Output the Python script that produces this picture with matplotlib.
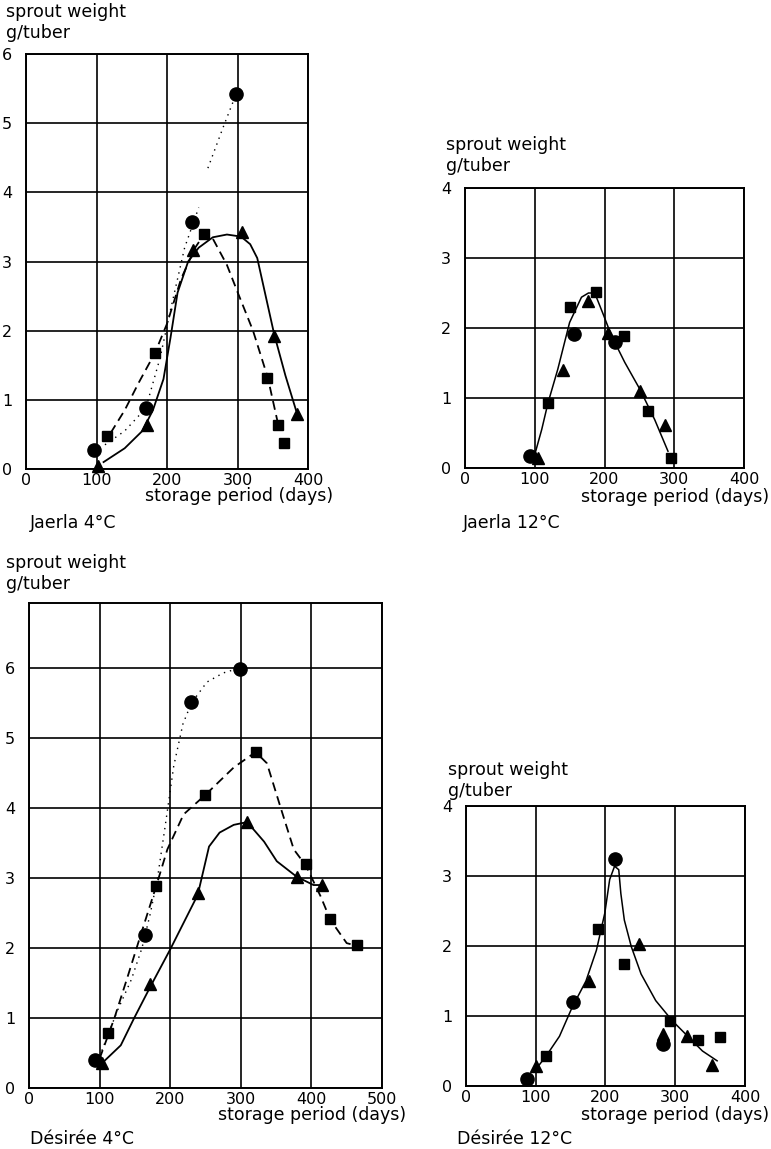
import matplotlib
matplotlib.use("Agg")
import matplotlib.pyplot as plt
import numpy as np

W, H = 771, 1149
DPI = 100

# ---------------- data ----------------
# Jaerla 4 C
j4_circ_x = [96, 170, 235, 298]
j4_circ_y = [0.28, 0.88, 3.57, 5.42]
j4_sq_x = [115, 183, 253, 342, 358, 366]
j4_sq_y = [0.48, 1.68, 3.40, 1.32, 0.63, 0.38]
j4_tri_x = [102, 172, 237, 306, 352, 384]
j4_tri_y = [0.05, 0.63, 3.16, 3.42, 1.92, 0.80]
j4_dot_x = [112, 140, 170, 190, 205, 225, 245, np.nan, 258, 280, 298]
j4_dot_y = [0.35, 0.55, 0.88, 1.60, 2.30, 3.20, 3.78, np.nan, 4.35, 4.95, 5.42]
j4_dash_x = [120, 140, 160, 183, 200, 220, 240, 253, 265, 285, 300, 322, 343, 358]
j4_dash_y = [0.52, 0.85, 1.25, 1.68, 2.10, 2.75, 3.20, 3.40, 3.33, 2.95, 2.56, 2.00, 1.32, 0.63]
j4_sol_x = [110, 140, 165, 180, 195, 205, 215, 230, 245, 265, 285, 305, 318, 328, 340, 352, 368, 383]
j4_sol_y = [0.10, 0.30, 0.55, 0.85, 1.30, 1.90, 2.55, 3.00, 3.20, 3.35, 3.39, 3.36, 3.25, 3.05, 2.50, 1.95, 1.35, 0.85]

# Jaerla 12 C
j12_circ_x = [93, 156, 215]
j12_circ_y = [0.17, 1.91, 1.80]
j12_sq_x = [119, 150, 188, 228, 263, 295]
j12_sq_y = [0.93, 2.30, 2.51, 1.88, 0.81, 0.14]
j12_tri_x = [105, 141, 176, 205, 251, 287]
j12_tri_y = [0.14, 1.40, 2.39, 1.93, 1.10, 0.61]
j12_sol_x = [98, 110, 119, 133, 150, 167, 177, 186, 198, 210, 229, 251, 272, 291]
j12_sol_y = [0.12, 0.55, 0.93, 1.41, 2.08, 2.44, 2.50, 2.50, 2.20, 1.89, 1.51, 1.12, 0.69, 0.24]

# Desiree 4 C
d4_circ_x = [94, 165, 230, 299]
d4_circ_y = [0.40, 2.18, 5.51, 5.99]
d4_sq_x = [112, 180, 250, 321, 392, 427, 465]
d4_sq_y = [0.78, 2.88, 4.19, 4.80, 3.20, 2.42, 2.04]
d4_tri_x = [104, 172, 239, 309, 379, 415]
d4_tri_y = [0.36, 1.48, 2.78, 3.80, 3.02, 2.90]
d4_dot_x = [100, 125, 145, 160, 172, 182, 193, 205, 218, 230, 252, 275, 298]
d4_dot_y = [0.45, 1.10, 1.55, 2.00, 2.50, 3.00, 3.75, 4.60, 5.20, 5.50, 5.80, 5.93, 6.00]
d4_dash_x = [100, 112, 121, 140, 158, 180, 196, 219, 250, 290, 321, 337, 356, 375, 392, 413, 427, 450, 465]
d4_dash_y = [0.42, 0.75, 1.00, 1.60, 2.18, 2.88, 3.41, 3.91, 4.19, 4.58, 4.80, 4.64, 4.02, 3.41, 3.18, 2.74, 2.40, 2.07, 2.03]
d4_sol_x = [104, 130, 149, 172, 200, 220, 239, 255, 270, 290, 309, 333, 351, 379, 403, 415]
d4_sol_y = [0.36, 0.61, 1.00, 1.45, 1.98, 2.38, 2.76, 3.45, 3.65, 3.76, 3.80, 3.52, 3.24, 3.02, 2.90, 2.90]

# Desiree 12 C
d12_circ_x = [88, 153, 214, 282]
d12_circ_y = [0.10, 1.20, 3.24, 0.60]
d12_sq_x = [115, 189, 227, 293, 333, 364]
d12_sq_y = [0.43, 2.24, 1.75, 0.93, 0.66, 0.70]
d12_tri_x = [101, 177, 248, 282, 317, 353]
d12_tri_y = [0.28, 1.50, 2.03, 0.74, 0.72, 0.30]
d12_sol_x = [101, 115, 134, 152, 172, 187, 199, 206, 213, 219, 222, 227, 237, 251, 272, 296, 315, 339, 360]
d12_sol_y = [0.25, 0.43, 0.71, 1.12, 1.50, 1.94, 2.47, 2.95, 3.14, 3.09, 2.75, 2.37, 1.99, 1.60, 1.22, 0.93, 0.74, 0.50, 0.36]

xticks_400 = [0, 100, 200, 300, 400]
xticks_500 = [0, 100, 200, 300, 400, 500]
yticks_6 = [0, 1, 2, 3, 4, 5, 6]
yticks_4 = [0, 1, 2, 3, 4]

titles = ["Jaerla 4\u00b0C", "Jaerla 12\u00b0C", "D\u00e9sir\u00e9e 4\u00b0C", "D\u00e9sir\u00e9e 12\u00b0C"]
ylabel1 = "sprout weight"
ylabel2 = "g/tuber"
xlabel = "storage period (days)"

# ---------------- figure ----------------
plt.rcParams['font.family'] = ['DejaVu Sans']
fig = plt.figure(figsize=(W / DPI, H / DPI), dpi=DPI)
fig.patch.set_facecolor("white")

FS = 11.5
LFS = 12.5
LW = 1.3


def ax_px(l, t, r, b):
    return fig.add_axes([l / W, 1 - b / H, (r - l) / W, (b - t) / H])


def ftext(x, y, s, **kw):
    fig.text(x / W, 1 - y / H, s, fontsize=LFS, color="black", **kw)


def style(ax, xmax, ymax, xt, yt):
    ax.set_xlim(0, xmax)
    ax.set_ylim(0, ymax)
    ax.set_xticks(xt)
    ax.set_yticks(yt)
    ax.set_xticklabels([str(v) for v in xt], fontsize=FS)
    ax.set_yticklabels([str(v) for v in yt], fontsize=FS)
    ax.tick_params(axis="x", length=0, pad=3)
    ax.tick_params(axis="y", length=0, pad=10)
    ax.grid(True, color="black", linewidth=1.2)
    ax.set_axisbelow(True)
    for s in ax.spines.values():
        s.set_linewidth(1.4)
        s.set_color("black")


def markers(ax, cx, cy, sx, sy, tx, ty):
    ax.plot(cx, cy, "o", color="black", ms=9.5, ls="none", zorder=5, clip_on=False)
    ax.plot(sx, sy, "s", color="black", ms=7, ls="none", zorder=5, clip_on=False)
    ax.plot(tx, ty, "^", color="black", ms=8.5, ls="none", zorder=5, clip_on=False)


DOT = (0, (1, 3.5))
DASH = (0, (5, 3))

# Panel 1: Jaerla 4 C
ax1 = ax_px(26, 54, 308, 469)
style(ax1, 400, 6, xticks_400, yticks_6)
ax1.plot(j4_dot_x, j4_dot_y, color="black", lw=1.0, ls=DOT)
ax1.plot(j4_dash_x, j4_dash_y, color="black", lw=LW, ls=DASH)
ax1.plot(j4_sol_x, j4_sol_y, color="black", lw=LW, ls="-")
markers(ax1, j4_circ_x, j4_circ_y, j4_sq_x, j4_sq_y, j4_tri_x, j4_tri_y)
ftext(6, 12, ylabel1, va="center", ha="left")
ftext(6, 33, ylabel2, va="center", ha="left")
ftext(333, 496, xlabel, va="center", ha="right")
ftext(30, 523, titles[0], va="center", ha="left")

# Panel 2: Jaerla 12 C
ax2 = ax_px(465, 188, 744, 468)
style(ax2, 400, 4, xticks_400, yticks_4)
ax2.plot(j12_sol_x, j12_sol_y, color="black", lw=1.1, ls="-")
markers(ax2, j12_circ_x, j12_circ_y, j12_sq_x, j12_sq_y, j12_tri_x, j12_tri_y)
ftext(446, 145, ylabel1, va="center", ha="left")
ftext(446, 166, ylabel2, va="center", ha="left")
ftext(769, 497, xlabel, va="center", ha="right")
ftext(463, 523, titles[1], va="center", ha="left")

# Panel 3: Desiree 4 C
ax3 = ax_px(29, 603, 382, 1088)
style(ax3, 500, 6.93, xticks_500, yticks_6)
ax3.plot(d4_dot_x, d4_dot_y, color="black", lw=1.0, ls=DOT)
ax3.plot(d4_dash_x, d4_dash_y, color="black", lw=LW, ls=DASH)
ax3.plot(d4_sol_x, d4_sol_y, color="black", lw=LW, ls="-")
markers(ax3, d4_circ_x, d4_circ_y, d4_sq_x, d4_sq_y, d4_tri_x, d4_tri_y)
ftext(6, 563, ylabel1, va="center", ha="left")
ftext(6, 584, ylabel2, va="center", ha="left")
ftext(406, 1115, xlabel, va="center", ha="right")
ftext(30, 1139, titles[2], va="center", ha="left")

# Panel 4: Desiree 12 C
ax4 = ax_px(466, 806, 745, 1086)
style(ax4, 400, 4, xticks_400, yticks_4)
ax4.plot(d12_sol_x, d12_sol_y, color="black", lw=1.1, ls="-")
markers(ax4, d12_circ_x, d12_circ_y, d12_sq_x, d12_sq_y, d12_tri_x, d12_tri_y)
ftext(448, 770, ylabel1, va="center", ha="left")
ftext(448, 791, ylabel2, va="center", ha="left")
ftext(769, 1115, xlabel, va="center", ha="right")
ftext(457, 1139, titles[3], va="center", ha="left")

fig.savefig("out.png", dpi=DPI, facecolor="white")
